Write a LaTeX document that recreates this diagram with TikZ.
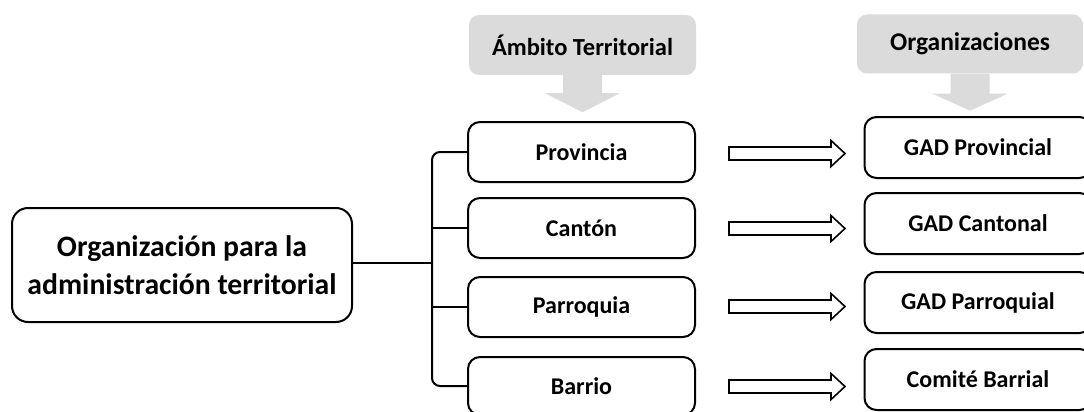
\documentclass[tikz,border=0pt]{standalone}
\usepackage{fontspec}
\setmainfont{Carlito}
\usetikzlibrary{calc}
\definecolor{lightgr}{HTML}{DBDBDB}
\tikzset{
  boxstyle/.style={draw=black, line width=2pt, rounded corners=12pt, minimum width=227pt, minimum height=60pt, inner sep=0pt, font=\fontsize{24}{28}\selectfont\bfseries, align=center},
  mainbox/.style={draw=black, line width=2pt, rounded corners=16pt, minimum width=340pt, minimum height=114pt, inner sep=0pt, font=\fontsize{29.7}{38}\selectfont\bfseries, align=center},
  graybox/.style={fill=lightgr, rounded corners=10pt, minimum width=227pt, minimum height=60pt, inner sep=0pt, font=\fontsize{24.5}{28}\selectfont\bfseries},
  hollow/.style={draw=black, line width=1.6pt, fill=white, line join=miter},
  branch/.style={line width=2pt},
}
\newcommand{\hollowarrow}[1]{%
  \draw[hollow] ($(#1)+(0,-6.5)$) -- ++(102,0) -- ++(0,-6.5) -- ($(#1)+(116,0)$) -- ($(#1)+(102,13)$) -- ++(0,-6.5) -- ($(#1)+(0,6.5)$) -- cycle;}
\begin{document}
\begin{tikzpicture}[x=1pt,y=-1pt]
\useasboundingbox (0,0) rectangle (1084,412);
% header boxes
\node[graybox] (amb) at (582.5,45) {Ámbito Territorial};
\node[graybox, minimum width=226pt, minimum height=59pt, font=\fontsize{25.5}{28}\selectfont\bfseries] (org) at (970,44) {Organizaciones};
% gray arrows
\fill[lightgr] ($(amb.south)+(-19.5,0)$) -- ++(0,18) -- ++(-18,0) -- ($(amb.south)+(0,37)$) -- ($(amb.south)+(37.5,18)$) -- ++(-18,0) -- ($(amb.south)+(19.5,0)$) -- cycle;
\fill[lightgr] ($(org.south)+(-19.5,0)$) -- ++(0,20) -- ++(-18,0) -- ($(org.south)+(0,37)$) -- ($(org.south)+(37.5,20)$) -- ++(-18,0) -- ($(org.south)+(19.5,0)$) -- cycle;
% main box
\node[mainbox] (main) at (182,265) {Organización para la\\administración territorial};
% middle boxes
\node[boxstyle] (prov) at (581.5,152) {Provincia};
\node[boxstyle] (cant) at (581.5,228) {Cantón};
\node[boxstyle] (parr) at (581.5,307) {Parroquia};
\node[boxstyle, minimum height=58pt] (barr) at (581.5,386) {Barrio};
% right boxes
\node[boxstyle, minimum height=61pt] (gprov) at (978,147.5) {GAD Provincial};
\node[boxstyle, minimum height=61pt] (gcant) at (978,223.5) {GAD Cantonal};
\node[boxstyle, minimum height=61pt] (gparr) at (978,302.5) {GAD Parroquial};
\node[boxstyle, minimum height=61pt] (gcom) at (978,379.5) {Comité Barrial};
% bracket
\coordinate (bx) at (432,263);
\draw[branch, rounded corners=8pt] (prov.west) -| (bx) |- (barr.west);
\draw[branch] (main.east |- bx) -- (bx);
\draw[branch] (cant.west) -- (cant.west -| bx);
\draw[branch] (parr.west) -- (parr.west -| bx);
% hollow arrows
\coordinate (a1) at ($(prov.east)+(33,1.5)$);
\coordinate (a2) at ($(cant.east)+(33,0.5)$);
\coordinate (a3) at ($(parr.east)+(33,-0.5)$);
\coordinate (a4) at ($(barr.east)+(33,0.5)$);
\hollowarrow{a1}
\hollowarrow{a2}
\hollowarrow{a3}
\hollowarrow{a4}
\end{tikzpicture}
\end{document}
